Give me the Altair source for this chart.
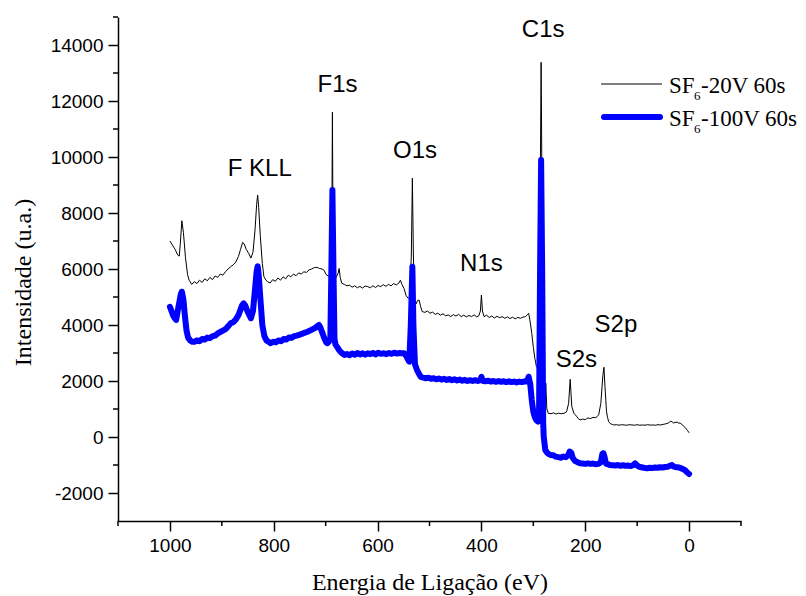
import altair as alt
import pandas as pd

# ---------------- data ----------------
ev_20 = [1000, 995, 990, 985, 982, 980, 977, 974, 970, 966, 963, 958, 953, 948, 943, 938, 933, 928, 923, 918,
         913, 908, 903, 898, 893, 888, 883, 878, 873, 868, 864, 860, 857, 853, 848, 844, 840, 836, 833, 831,
         829, 826, 822, 819, 815, 812, 807, 802, 797, 792, 787, 782, 777, 772, 767, 762, 757, 752, 747, 742,
         737, 732, 727, 722, 717, 712, 707, 703, 699, 694, 690, 688, 687, 686, 684, 680, 676, 674, 672, 669,
         664, 659, 654, 649, 644, 639, 634, 629, 624, 619, 614, 609, 604, 599, 594, 589, 584, 579, 574, 569,
         564, 559, 556, 553, 549, 545, 541, 538, 535, 533, 531, 529, 526, 523, 520, 517, 514, 509, 504, 499,
         494, 489, 484, 479, 474, 469, 464, 459, 454, 449, 444, 439, 434, 429, 424, 419, 414, 409, 405, 402,
         400, 398, 395, 390, 385, 380, 375, 370, 365, 360, 355, 350, 345, 340, 335, 330, 325, 320, 315, 311,
         309, 306, 303, 300, 297, 294, 291, 289, 287, 285, 283, 281, 279, 278, 276, 274, 271, 266, 261, 256,
         251, 246, 241, 236, 232, 229, 226, 222, 219, 216, 213, 210, 205, 200, 195, 190, 185, 180, 177, 174,
         170, 166, 164, 162, 159, 157, 155, 152, 148, 145, 140, 135, 130, 125, 120, 115, 110, 105, 100, 95,
         90, 85, 80, 75, 70, 65, 60, 55, 50, 45, 40, 36, 33, 30, 27, 23, 20, 17, 13, 10, 6, 3, 0]
int_20 = [7000, 6850, 6700, 6500, 6460, 6900, 7725, 7300, 6400, 5800, 5600, 5450, 5550, 5480, 5600, 5520, 5650, 5580, 5700, 5620,
          5750, 5700, 5820, 5780, 5900, 6000, 6080, 6150, 6250, 6450, 6700, 6950, 6900, 6700, 6550, 6390, 6600, 7400, 8300, 8640,
          8200, 7200, 6200, 5730, 5600, 5550, 5500, 5620, 5560, 5680, 5600, 5720, 5650, 5780, 5720, 5820, 5760, 5860, 5820, 5900,
          5880, 5970, 6000, 6050, 6060, 6020, 6000, 5950, 5800, 5740, 5800, 8000, 11600, 8000, 5800, 5700, 5850, 6020, 5700, 5490,
          5450, 5400, 5420, 5350, 5400, 5330, 5380, 5320, 5390, 5370, 5330, 5400, 5340, 5410, 5370, 5440, 5380, 5450, 5400, 5480,
          5430, 5500, 5600, 5450, 5300, 5050, 4950, 5000, 6500, 9240, 6500, 4900, 4750, 4880, 4890, 4650, 4480, 4450, 4500, 4420,
          4460, 4380, 4420, 4350, 4400, 4330, 4360, 4300, 4370, 4320, 4380, 4300, 4350, 4290, 4340, 4300, 4360, 4290, 4330, 4500,
          5070, 4500, 4300, 4350, 4270, 4320, 4250, 4310, 4260, 4300, 4240, 4290, 4230, 4280, 4220, 4270, 4240, 4280, 4300, 4380,
          4420, 4100, 3700, 3200, 2800, 2510, 2450, 3000, 8000, 13380, 8000, 3000, 2200, 900, 1920, 1000, 845, 830, 860, 820,
          850, 830, 845, 900, 1200, 2060, 1100, 850, 790, 720, 650, 610, 640, 620, 680, 660, 700, 690, 730, 800,
          1200, 2200, 2490, 1800, 900, 700, 550, 480, 450, 430, 440, 420, 440, 430, 420, 440, 430, 420, 440, 420,
          430, 420, 440, 425, 430, 420, 440, 430, 450, 470, 500, 560, 550, 500, 520, 530, 500, 490, 440, 380, 300, 230, 150]

ev_100 = [1000, 997, 994, 991, 988, 985, 982, 979, 977, 974, 971, 968, 965, 961, 957, 953, 948, 943, 938, 933,
          928, 923, 918, 913, 908, 903, 898, 893, 888, 883, 878, 873, 868, 864, 861, 858, 855, 851, 847, 844,
          840, 836, 833, 831, 829, 826, 822, 818, 814, 810, 806, 801, 796, 791, 786, 781, 776, 771, 766, 761,
          756, 751, 746, 741, 735, 730, 725, 720, 716, 713, 710, 706, 702, 699, 697, 694, 691, 689, 687, 685,
          683, 681, 678, 674, 669, 664, 659, 654, 649, 644, 639, 634, 629, 624, 619, 614, 609, 604, 599, 594,
          588, 583, 578, 573, 568, 563, 558, 553, 549, 545, 541, 539, 536, 533, 531, 528, 524, 520, 517, 512,
          507, 502, 497, 492, 487, 482, 477, 472, 467, 462, 457, 452, 447, 442, 437, 432, 427, 422, 417, 412,
          407, 402, 400, 397, 392, 387, 382, 377, 372, 367, 362, 357, 352, 347, 342, 337, 332, 327, 322, 317,
          312, 309, 306, 303, 300, 297, 294, 291, 289, 287, 285, 283, 281, 280, 278, 277, 274, 271, 267, 262,
          257, 252, 247, 242, 237, 233, 230, 227, 224, 220, 215, 210, 205, 200, 195, 190, 185, 180, 175, 170,
          167, 165, 163, 160, 156, 152, 147, 142, 137, 132, 127, 122, 117, 112, 107, 104, 101, 97, 92, 87,
          81, 76, 71, 66, 61, 56, 51, 46, 41, 36, 33, 30, 27, 23, 19, 15, 11, 7, 4, 0]
int_100 = [4650, 4500, 4350, 4250, 4180, 4500, 4800, 5100, 5190, 4900, 4300, 3800, 3550, 3450, 3400, 3400, 3450, 3420, 3500, 3480,
           3550, 3530, 3600, 3620, 3700, 3750, 3800, 3850, 3950, 4060, 4100, 4200, 4350, 4550, 4700, 4770, 4700, 4500, 4350, 4240,
           4500, 5300, 5900, 6100, 5800, 5000, 4000, 3600, 3450, 3400, 3350, 3400, 3380, 3450, 3420, 3500, 3480, 3550, 3540, 3600,
           3620, 3650, 3680, 3720, 3760, 3800, 3850, 3900, 3960, 4000, 3900, 3700, 3500, 3380, 3350, 3400, 3500, 6000, 8820, 6000,
           3500, 3300, 3220, 3100, 3000, 2930, 2960, 2920, 2980, 2940, 3000, 2950, 2990, 2940, 2990, 2960, 3000, 2950, 3010, 2970,
           2990, 2960, 3000, 2970, 3010, 2980, 3000, 2990, 2990, 2900, 2750, 2690, 4000, 6080, 4000, 2600, 2390, 2250, 2150, 2120,
           2100, 2120, 2080, 2100, 2060, 2090, 2050, 2080, 2040, 2070, 2030, 2060, 2020, 2050, 2010, 2040, 2000, 2030, 2000, 2030,
           2000, 2040, 2150, 2000, 1990, 2010, 1980, 2000, 1970, 2000, 1970, 1990, 1960, 1990, 1960, 1980, 1950, 1980, 1960, 1990,
           1980, 2150, 1900, 1320, 900, 700, 600, 550, 700, 6000, 9890, 6000, 500, 10, -300, -460, -550, -600, -640, -650,
           -700, -720, -740, -700, -720, -650, -520, -560, -750, -850, -900, -940, -950, -960, -940, -960, -950, -970, -960, -900,
           -600, -580, -700, -950, -980, -1000, -1010, -1020, -1000, -1030, -1010, -1030, -1020, -1040, -1000, -940, -1000, -1060, -1080, -1100,
           -1120, -1100, -1110, -1090, -1100, -1080, -1090, -1070, -1060, -1020, -1000, -1050, -1070, -1080, -1090, -1120, -1150, -1200, -1260, -1320]

series_names = ["SF6-20V 60s", "SF6-100V 60s"]

peak_labels = ["F KLL", "F1s", "O1s", "C1s", "N1s", "S2s", "S2p"]
peak_ev = [827, 677, 528, 281, 400, 217, 141]
peak_int = [9320, 12320, 9960, 14290, 5930, 2500, 3750]

x_major = [1000, 800, 600, 400, 200, 0]
x_minor = [1100, 900, 700, 500, 300, 100, -100]
y_major = [-2000, 0, 2000, 4000, 6000, 8000, 10000, 12000, 14000]
y_minor = [-1000, 1000, 3000, 5000, 7000, 9000, 11000, 13000, 15000]

legend_main = ["SF", "SF"]
legend_sub = ["6", "6"]
legend_rest = ["-20V 60s", "-100V 60s"]

# ---------------- frames ----------------
df20 = pd.DataFrame({"ev": ev_20, "val": int_20, "s": series_names[0]})
df100 = pd.DataFrame({"ev": ev_100, "val": int_100, "s": series_names[1]})
dlab = pd.DataFrame({"lab": peak_labels, "ev": peak_ev, "val": peak_int})
dxm = pd.DataFrame({"ev": x_minor})
dym = pd.DataFrame({"val": y_minor})

W, H = 623, 504
SANS = "Liberation Sans"
SERIF = "Liberation Serif"

xs = alt.Scale(domain=[-100, 1100], reverse=True, nice=False, zero=False)
ys = alt.Scale(domain=[-3000, 15000], nice=False, zero=False)

x_enc = alt.X("ev:Q", scale=xs, title="Energia de Ligação (eV)",
              axis=alt.Axis(values=x_major, grid=False, tickSize=10, tickWidth=1.5,
                            domainWidth=1.5, domainColor="black", tickColor="black",
                            labelFont=SANS, labelFontSize=19, labelColor="black",
                            labelExpr="'' + datum.value",
                            labelPadding=5, titleFont=SERIF, titleFontSize=24,
                            titleFontWeight="normal", titleColor="black",
                            titleY=68, titleBaseline="alphabetic"))
y_enc = alt.Y("val:Q", scale=ys, title="Intensidade (u.a.)",
              axis=alt.Axis(values=y_major, grid=False, tickSize=10, tickWidth=1.5,
                            domainWidth=1.5, domainColor="black", tickColor="black",
                            labelFont=SANS, labelFontSize=19, labelColor="black",
                            labelExpr="'' + datum.value",
                            labelPadding=5, titleFont=SERIF, titleFontSize=24,
                            titleFontWeight="normal", titleColor="black",
                            titleX=-95, titleY=265, titleAngle=-90,
                            titleBaseline="middle", titleAlign="center"))

line20 = alt.Chart(df20).mark_line(color="black", strokeWidth=1).encode(
    x=x_enc, y=y_enc, order="ev:Q")
line100 = alt.Chart(df100).mark_line(color="#0000ff", strokeWidth=6, strokeCap="round",
                                     strokeJoin="round").encode(
    x=alt.X("ev:Q", scale=xs), y=alt.Y("val:Q", scale=ys), order="ev:Q")

labels = alt.Chart(dlab).mark_text(font=SANS, fontSize=24, color="black",
                                   align="center", baseline="alphabetic").encode(
    x=alt.X("ev:Q", scale=xs), y=alt.Y("val:Q", scale=ys), text="lab:N")

xminor = alt.Chart(dxm).mark_rule(color="black", strokeWidth=1.5).encode(
    x=alt.X("ev:Q", scale=xs), y=alt.value(H), y2=alt.value(H + 5))
yminor = alt.Chart(dym).mark_rule(color="black", strokeWidth=1.5).encode(
    y=alt.Y("val:Q", scale=ys), x=alt.value(-5), x2=alt.value(0))

# legend (manual, for the subscript)
dleg = pd.DataFrame({"main": legend_main, "sub": legend_sub, "rest": legend_rest})
leg_line1 = alt.Chart(dleg.iloc[[0]]).mark_rule(color="black", strokeWidth=1).encode(
    x=alt.value(483), x2=alt.value(544), y=alt.value(67))
leg_line2 = alt.Chart(dleg.iloc[[1]]).mark_rule(color="#0000ff", strokeWidth=6,
                                                strokeCap="round").encode(
    x=alt.value(486), x2=alt.value(542), y=alt.value(100))
leg_parts = []
for i, yb in enumerate([76, 109]):
    d = dleg.iloc[[i]]
    leg_parts.append(alt.Chart(d).mark_text(font=SERIF, fontSize=23, color="black",
                                            align="left", baseline="alphabetic").encode(
        x=alt.value(551), y=alt.value(yb), text="main:N"))
    leg_parts.append(alt.Chart(d).mark_text(font=SERIF, fontSize=13, color="black",
                                            align="left", baseline="alphabetic").encode(
        x=alt.value(576), y=alt.value(yb + 7), text="sub:N"))
    leg_parts.append(alt.Chart(d).mark_text(font=SERIF, fontSize=23, color="black",
                                            align="left", baseline="alphabetic").encode(
        x=alt.value(583), y=alt.value(yb), text="rest:N"))

chart = alt.layer(line20, line100, labels, xminor, yminor, leg_line1, leg_line2,
                  *leg_parts).properties(
    width=W, height=H,
    autosize=alt.AutoSizeParams(type="none"),
    padding={"left": 118, "top": 17, "right": 65, "bottom": 75},
    background="white",
).configure_view(stroke=None)

chart.save("out.html", embed_options={"renderer": "svg", "actions": False})
